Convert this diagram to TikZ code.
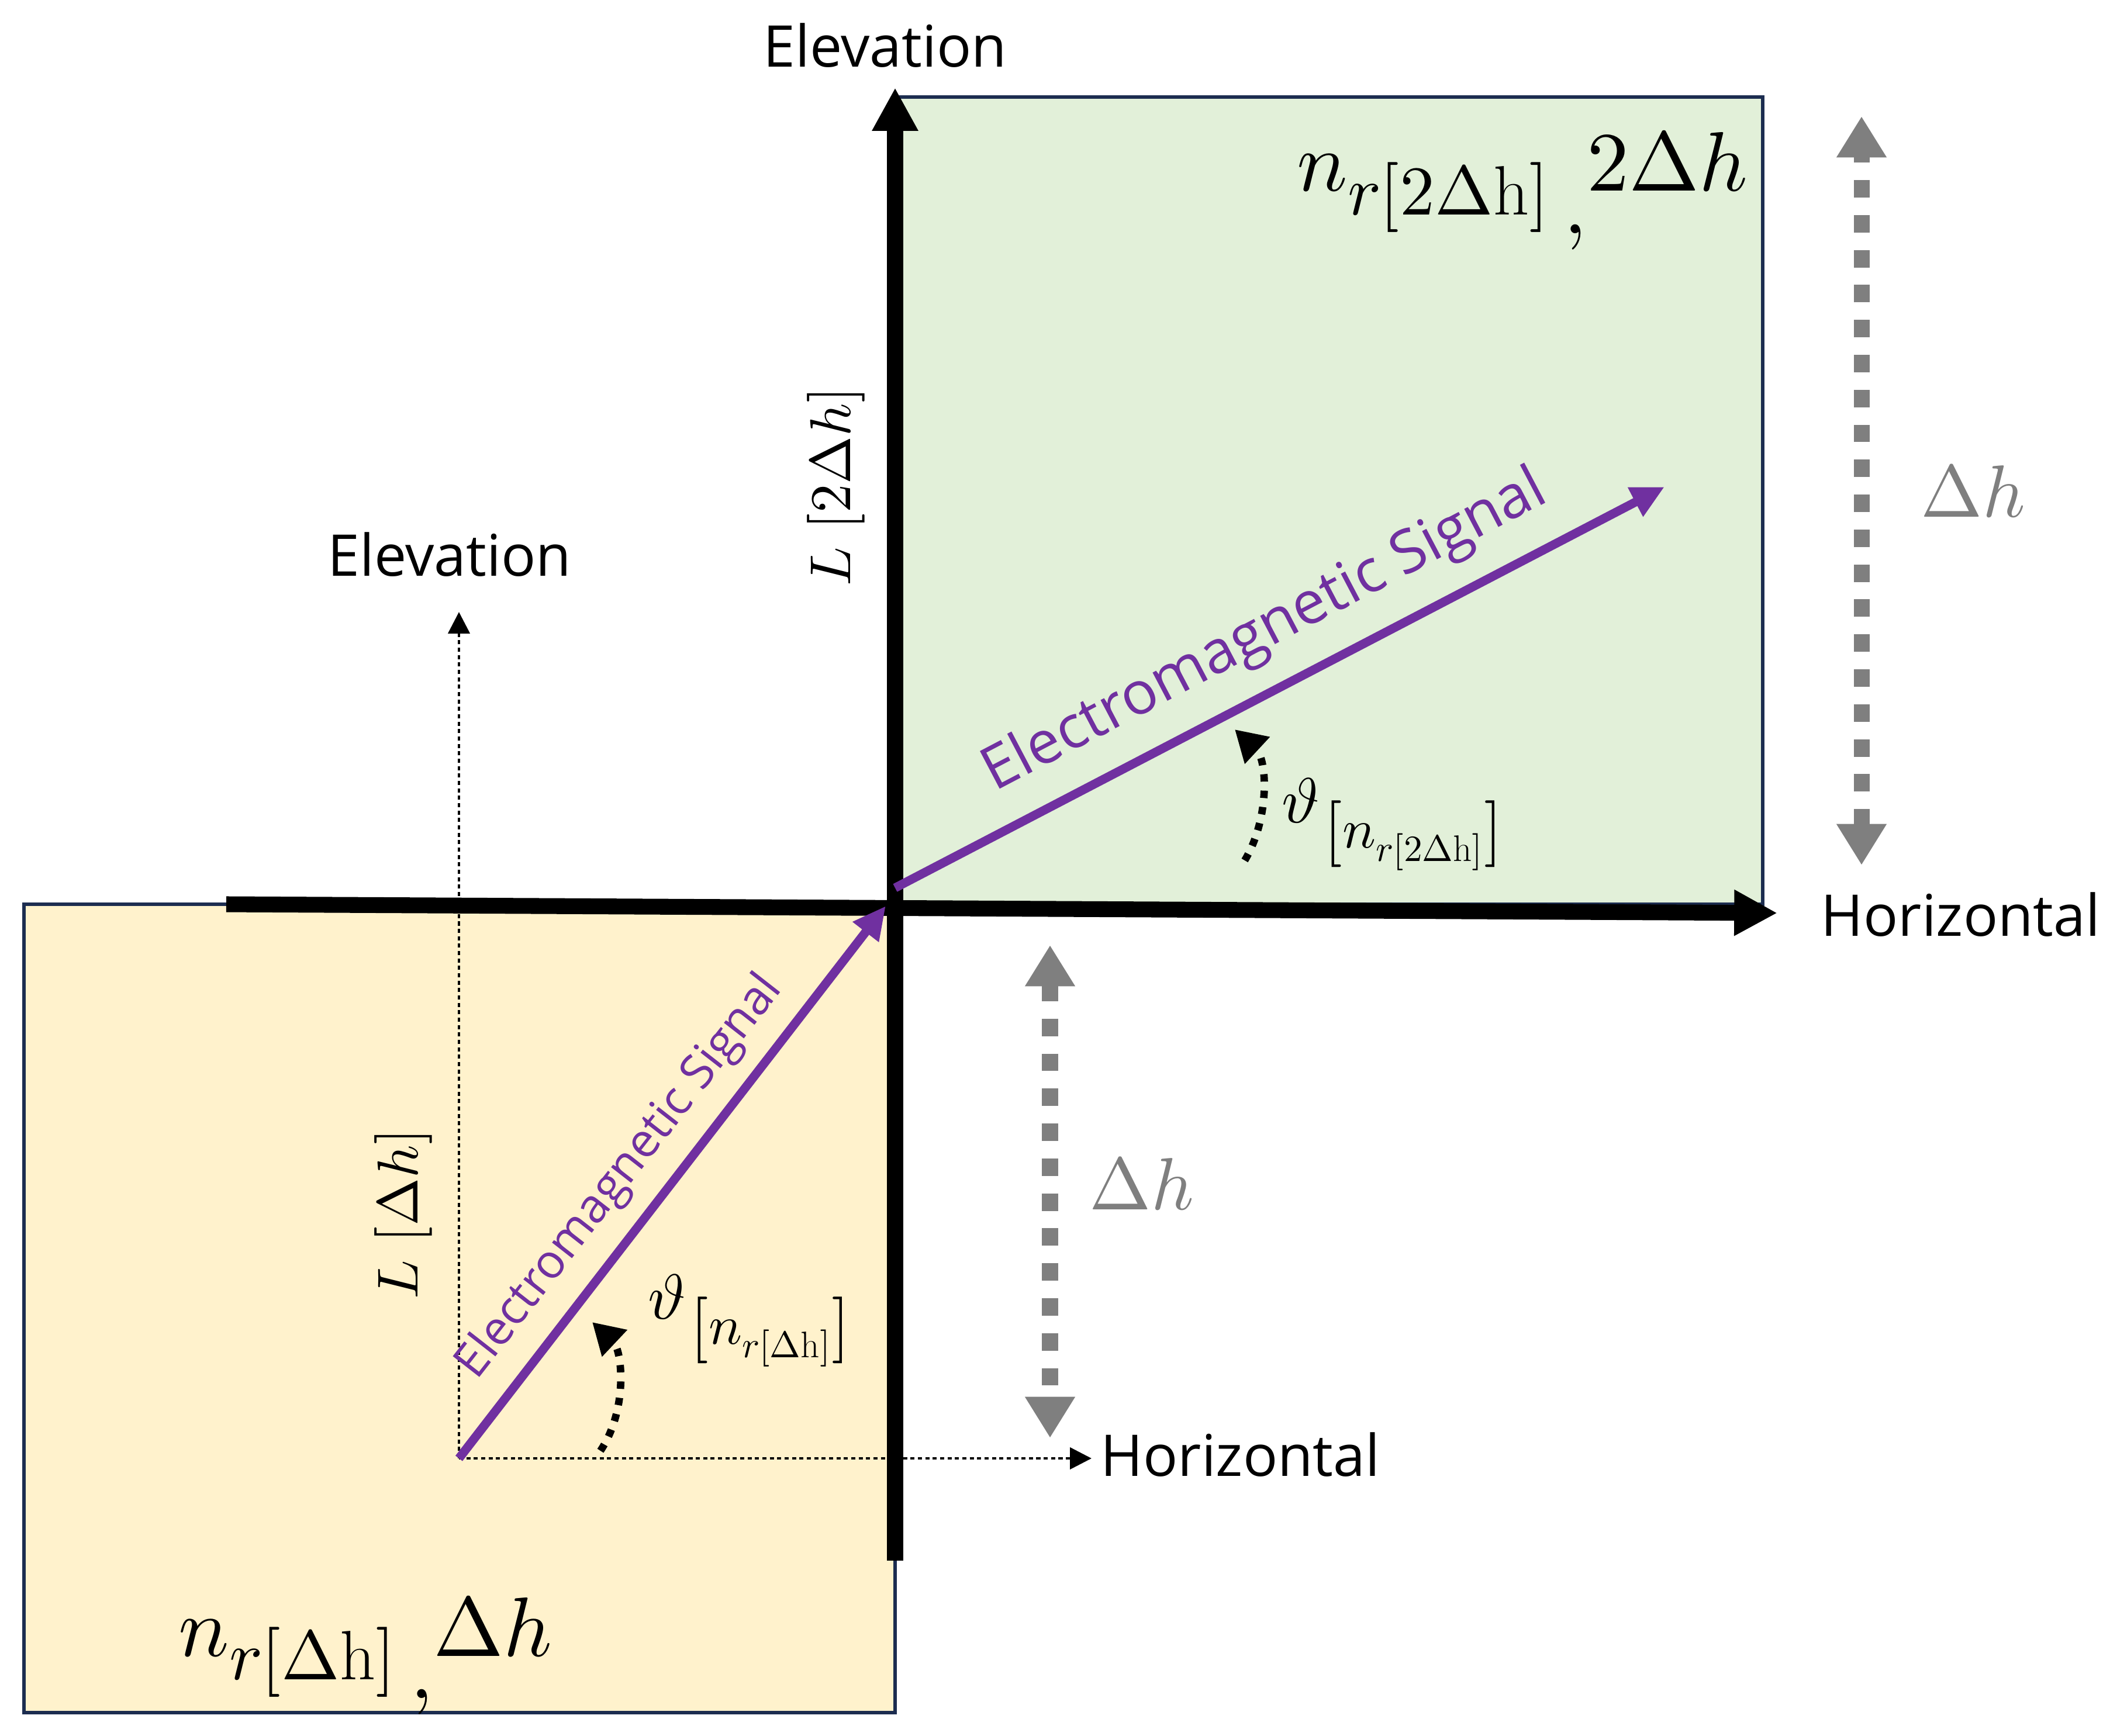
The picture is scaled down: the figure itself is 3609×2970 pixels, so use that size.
\documentclass[tikz,border=0pt]{standalone}
\usepackage{fontspec}
\usepackage{unicode-math}
\setmathfont{Latin Modern Math}
\newfontfamily\labfont{Open Sans}
\DeclareMathSizes{41}{41}{34}{24}
\DeclareMathSizes{31}{31}{27}{18}
\usetikzlibrary{arrows.meta}
\definecolor{gfill}{HTML}{E2F0D9}
\definecolor{yfill}{HTML}{FFF2CC}
\definecolor{navy}{RGB}{28,45,80}
\definecolor{purp}{HTML}{7030A0}
\definecolor{gry}{HTML}{7F7F7F}
\tikzset{
  region/.style={draw=navy, line width=1.8pt},
  axisline/.style={line width=7.7pt, -{Triangle[width=21pt,length=21pt]}},
  thinaxis/.style={line width=1.3pt, dash pattern=on 2pt off 1.6pt, -{Triangle[width=10.5pt,length=10.5pt]}},
  signal/.style={purp, line width=4.3pt, -{Triangle[width=15pt,length=16pt]}},
  anglearr/.style={line width=3.6pt, dash pattern=on 3.6pt off 4.4pt, -{Triangle[width=17pt,length=15pt]}},
  dimarr/.style={gry, line width=7.7pt, dash pattern=on 8.5pt off 8.5pt, {Triangle[width=23pt,length=20pt]}-{Triangle[width=23pt,length=20pt]}},
  lab/.style={inner sep=0pt, font=\labfont\fontsize{28}{34}\selectfont},
  sig/.style={text=purp, font=\labfont\fontsize{#1}{#1}\selectfont},
  mlab/.style={font=\fontsize{#1}{#1}\selectfont},
}
\begin{document}
\begin{tikzpicture}[x=0.01cm, y=-0.01cm]
\fill[white] (0,0) rectangle (3609,2970);
\useasboundingbox (0,0) rectangle (3609,2970);

% regions
\draw[region, fill=gfill] (1531,166) rectangle (3015,1547);
\draw[region, fill=yfill] (41,1547) rectangle (1531,2930);

% coordinates
\coordinate (O) at (1531,1552);
\coordinate (vTop) at (1531,150);
\coordinate (vBot) at (1531,2670);
\coordinate (hL) at (387,1547);
\coordinate (hR) at (3040,1562);
\coordinate (P) at (785,2495);
\coordinate (elevTip) at (785,1047);
\coordinate (horTip) at (1867,2495);
\coordinate (sigLtip) at (1515,1550);
\coordinate (sigUstart) at (1531,1519);
\coordinate (sigUtip) at (2847,833);

% thin dotted reference axes
\draw[thinaxis] (P) -- (elevTip);
\draw[thinaxis] (P) -- (horTip);

% gray dimension arrows
\coordinate (dR1) at (3184,1480);
\coordinate (dR2) at (3184,199);
\coordinate (dL1) at (1796,1617);
\coordinate (dL2) at (1796,2460);
\draw[dimarr] (dR1) -- (dR2);
\draw[dimarr] (dL1) -- (dL2);

% thick axes
\draw[axisline] (vBot) -- (vTop);
\draw[axisline] (hL) -- (hR);

% signals
\draw[signal] (P) -- (sigLtip);
\draw[signal] (sigUstart) -- (sigUtip);

% angle arrows
\coordinate (aL1) at (1027,2482);
\coordinate (aL2) at (1013,2262);
\coordinate (aU1) at (2129,1472);
\coordinate (aU2) at (2112,1248);
\draw[anglearr] (aL1) .. controls (1075,2410) and (1064,2310) .. (aL2);
\draw[anglearr] (aU1) .. controls (2172,1400) and (2168,1300) .. (aU2);

% labels
\node[lab, anchor=base] (elevTop) at (1514,115) {Elevation};
\node[lab, anchor=base west] (horR) at (3114,1601) {Horizontal};
\node[lab, anchor=base] (elevL) at (769,985) {Elevation};
\node[lab, anchor=base west] (horL) at (1882,2525) {Horizontal};

\node[sig=29, rotate=27.7] (emU) at (2164,1082) {Electromagnetic Signal};
\node[sig=23, rotate=52] (emL) at (1061,2014) {Electromagnetic Signal};

\node[mlab=41, anchor=base west, inner sep=0pt] (nTop) at (2218,327) {$n_{r[2\Delta\mathrm{h}]}\,\raisebox{-0.5em}{$,$}2\Delta h$};
\node[mlab=41, anchor=base west, inner sep=0pt] (nBot) at (305,2833) {$n_{r[\Delta\mathrm{h}]}\,\raisebox{-0.5em}{$,$}\Delta h$};

\node[mlab=31, anchor=base west, inner sep=0pt] (thU) at (2192,1407) {$\vartheta_{\left[n_{r[2\Delta\mathrm{h}]}\right]}$};
\node[mlab=31, anchor=base west, inner sep=0pt] (thL) at (1108,2256) {$\vartheta_{\left[n_{r[\Delta\mathrm{h}]}\right]}$};

\node[mlab=28, rotate=90] (L2) at (1430,832) {$L\ [2\Delta h]$};
\node[mlab=28, rotate=90] (L1) at (690,2077) {$L\ [\Delta h]$};

\node[mlab=36, text=gry] (dhR) at (3375,840) {$\Delta h$};
\node[mlab=36, text=gry] (dhL) at (1953,2025) {$\Delta h$};
\end{tikzpicture}
\end{document}
